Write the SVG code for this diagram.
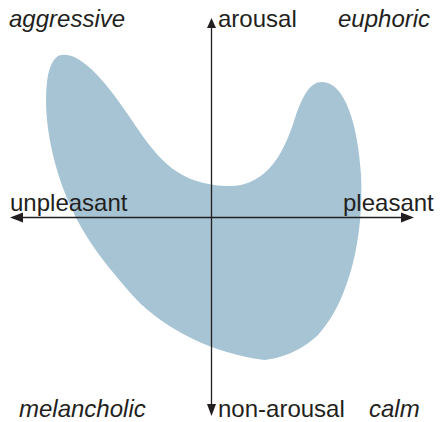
<svg xmlns="http://www.w3.org/2000/svg" width="440" height="422" viewBox="0 0 440 422">
<defs>
<style>
.t{font-family:"Liberation Sans",Arial,sans-serif;font-size:24px;fill:#231f20}
.i{font-style:italic}
.ax{stroke:#231f20;stroke-width:1.3;fill:none}
.ah{fill:#231f20}
</style>
</defs>
<rect width="440" height="422" fill="#fff"/>
<g id="region">
<path fill="#a6c4d4" d="M62,55 C85,52 115,95 135,125 C160,162 180,184 226,186 C268,188 285,150 295,118 C303,95 310,82 322,82 C345,82 358,125 361,175 C364,235 350,300 318,335 C300,352 280,358 265,360 C215,354 165,330 135,298 C110,270 85,240 70,205 C50,160 42,110 48,75 C51,62 56,55 62,55 Z"/>
</g>
<g id="connectors">
<line class="ax" x1="211.5" y1="26" x2="211.5" y2="406"/>
<line class="ax" x1="20" y1="217.5" x2="404" y2="217.5"/>
<polygon class="ah" points="211.5,18 207,28 216,28"/>
<polygon class="ah" points="211.5,416 207,404 216,404"/>
<polygon class="ah" points="10,217.5 23,212.5 23,222.5"/>
<polygon class="ah" points="414,217.5 401,212.5 401,222.5"/>
</g>
<g id="label-aggressive"><text class="t i" x="9" y="27">aggressive</text></g>
<g id="label-arousal"><text class="t" x="218" y="27">arousal</text></g>
<g id="label-euphoric"><text class="t i" x="338" y="27">euphoric</text></g>
<g id="label-unpleasant"><text class="t" x="10" y="211">unpleasant</text></g>
<g id="label-pleasant"><text class="t" x="343" y="211">pleasant</text></g>
<g id="label-melancholic"><text class="t i" x="19" y="417">melancholic</text></g>
<g id="label-non-arousal"><text class="t" x="218" y="417">non-arousal</text></g>
<g id="label-calm"><text class="t i" x="369" y="417">calm</text></g>
</svg>
